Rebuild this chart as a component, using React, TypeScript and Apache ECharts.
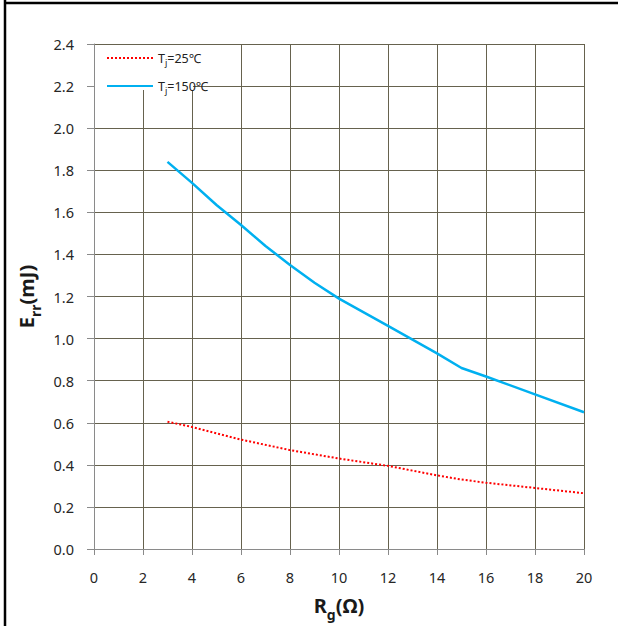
import React, { useEffect, useRef } from "react";
import * as echarts from "echarts";

const xTicks = [0, 2, 4, 6, 8, 10, 12, 14, 16, 18, 20];
const yTicks = [0, 0.2, 0.4, 0.6, 0.8, 1.0, 1.2, 1.4, 1.6, 1.8, 2.0, 2.2, 2.4];

const seriesNames = ["Tj=25℃", "Tj=150℃"];
const legendRich = ["T{sub|j}=25℃", "T{sub|j}=150℃"];

const rgLow = [3, 4, 5, 6, 8, 10, 12, 14, 15, 16, 18, 20];
const errLow = [0.605, 0.58, 0.55, 0.52, 0.47, 0.43, 0.395, 0.35, 0.33, 0.315, 0.29, 0.265];

const rgHigh = [3, 4, 5, 6, 7, 8, 9, 10, 12, 14, 15, 16, 18, 20];
const errHigh = [1.84, 1.74, 1.635, 1.54, 1.44, 1.35, 1.265, 1.19, 1.06, 0.93, 0.86, 0.82, 0.735, 0.65];

const FONT = "Noto Sans";

export default function App() {
  const ref = useRef<HTMLDivElement>(null);
  useEffect(() => {
    if (!ref.current) return;
    const chart = echarts.init(ref.current, undefined, { renderer: "svg" });
    const gridColor = "#66624e";
    const axisColor = "#8a8a8a";
    const nameStyle = {
      fontFamily: FONT,
      fontSize: 20,
      fontWeight: "bold",
      color: "#1a1a1a",
      lineHeight: 26,
      rich: {
        sub: { fontSize: 14, fontWeight: "bold", fontFamily: FONT, color: "#1a1a1a", verticalAlign: "bottom", lineHeight: 32 },
      },
    };
    chart.setOption({
      animation: false,
      backgroundColor: "#ffffff",
      textStyle: { fontFamily: FONT },
      grid: { left: 94, top: 44, width: 490, height: 511 },
      legend: {
        left: 106,
        top: 49,
        orient: "vertical",
        itemWidth: 46,
        itemHeight: 14,
        itemGap: 10,
        padding: 0,
        data: seriesNames,
        itemStyle: { opacity: 0 },
        formatter: (name: string) => legendRich[seriesNames.indexOf(name)],
        textStyle: {
          fontFamily: FONT,
          fontSize: 12.5,
          color: "#222",
          rich: {
            sub: { fontSize: 9, fontFamily: FONT, color: "#222", verticalAlign: "bottom", lineHeight: 18 },
          },
          lineHeight: 16,
        },
      },
      graphic: [
        {
          type: "rect",
          z: 1,
          shape: { x: 95, y: 45, width: 98, height: 45 },
          style: { fill: "#ffffff" },
        },
        {
          type: "line",
          z: 10,
          shape: { x1: 5, y1: 0, x2: 5, y2: 626 },
          style: { stroke: "#000", lineWidth: 2.5 },
        },
        {
          type: "line",
          z: 10,
          shape: { x1: 4, y1: 3, x2: 618, y2: 3 },
          style: { stroke: "#000", lineWidth: 2.5 },
        },
      ],
      xAxis: {
        type: "value",
        min: xTicks[0],
        max: xTicks[xTicks.length - 1],
        interval: 2,
        name: "R{sub|g}(Ω)",
        nameLocation: "middle",
        nameGap: 40,
        nameTextStyle: nameStyle,
        axisLine: { show: true, onZero: false, lineStyle: { color: axisColor, width: 1 } },
        axisTick: { show: true, length: 6, lineStyle: { color: axisColor } },
        axisLabel: { fontFamily: FONT, fontSize: 14.5, color: "#262626", margin: 20 },
        splitLine: { show: true, lineStyle: { color: gridColor, width: 1 } },
      },
      yAxis: {
        type: "value",
        min: yTicks[0],
        max: yTicks[yTicks.length - 1],
        interval: 0.2,
        name: "E{sub|rr}(mJ)",
        nameLocation: "middle",
        nameGap: 47,
        nameRotate: 90,
        nameTextStyle: nameStyle,
        axisLine: { show: true, lineStyle: { color: axisColor, width: 1 } },
        axisTick: { show: true, length: 7, lineStyle: { color: axisColor } },
        axisLabel: {
          fontFamily: FONT,
          fontSize: 14.5,
          color: "#262626",
          margin: 20,
          formatter: (v: number) => v.toFixed(1),
        },
        splitLine: { show: true, lineStyle: { color: gridColor, width: 1 } },
      },
      series: [
        {
          name: seriesNames[0],
          type: "line",
          showSymbol: false,
          symbol: "none",
          data: rgLow.map((x, i) => [x, errLow[i]]),
          lineStyle: { color: "#ff0000", width: 2, type: [2, 2] },
          itemStyle: { color: "#ff0000" },
          z: 3,
        },
        {
          name: seriesNames[1],
          type: "line",
          showSymbol: false,
          symbol: "none",
          data: rgHigh.map((x, i) => [x, errHigh[i]]),
          lineStyle: { color: "#00b0f0", width: 2.5 },
          itemStyle: { color: "#00b0f0" },
          z: 3,
        },
      ],
    });
    return () => chart.dispose();
  }, []);
  return (
    <div
      ref={ref}
      style={{ position: "fixed", left: 0, top: 0, width: 618, height: 626, background: "#fff" }}
    />
  );
}
